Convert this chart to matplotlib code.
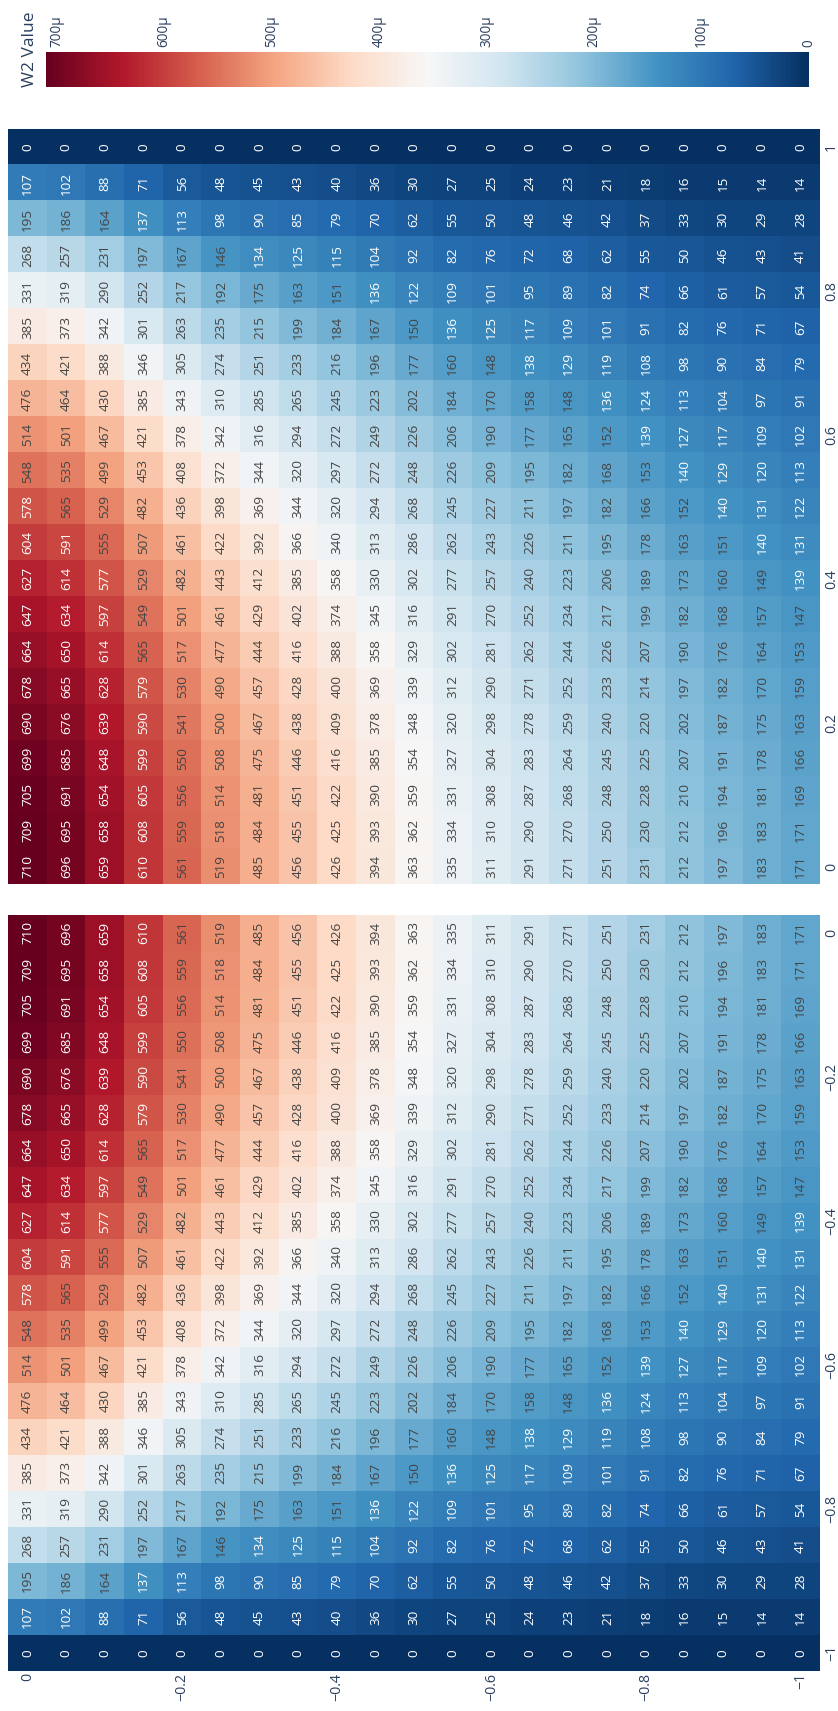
import numpy as np
import matplotlib.pyplot as plt
from matplotlib.colors import Normalize

plt.rcParams['font.family'] = ['Open Sans', 'DejaVu Sans']

# W2 values (in micro units).
# one list per grid line of the positive quadrant, from the 0-edge outwards,
# each list going from the 0-edge to the 1-edge
w2_rows = [
    [710, 709, 705, 699, 690, 678, 664, 647, 627, 604, 578, 548, 514, 476, 434, 385, 331, 268, 195, 107, 0],
    [696, 695, 691, 685, 676, 665, 650, 634, 614, 591, 565, 535, 501, 464, 421, 373, 319, 257, 186, 102, 0],
    [659, 658, 654, 648, 639, 628, 614, 597, 577, 555, 529, 499, 467, 430, 388, 342, 290, 231, 164, 88, 0],
    [610, 608, 605, 599, 590, 579, 565, 549, 529, 507, 482, 453, 421, 385, 346, 301, 252, 197, 137, 71, 0],
    [561, 559, 556, 550, 541, 530, 517, 501, 482, 461, 436, 408, 378, 343, 305, 263, 217, 167, 113, 56, 0],
    [519, 518, 514, 508, 500, 490, 477, 461, 443, 422, 398, 372, 342, 310, 274, 235, 192, 146, 98, 48, 0],
    [485, 484, 481, 475, 467, 457, 444, 429, 412, 392, 369, 344, 316, 285, 251, 215, 175, 134, 90, 45, 0],
    [456, 455, 451, 446, 438, 428, 416, 402, 385, 366, 344, 320, 294, 265, 233, 199, 163, 125, 85, 43, 0],
    [426, 425, 422, 416, 409, 400, 388, 374, 358, 340, 320, 297, 272, 245, 216, 184, 151, 115, 79, 40, 0],
    [394, 393, 390, 385, 378, 369, 358, 345, 330, 313, 294, 272, 249, 223, 196, 167, 136, 104, 70, 36, 0],
    [363, 362, 359, 354, 348, 339, 329, 316, 302, 286, 268, 248, 226, 202, 177, 150, 122, 92, 62, 30, 0],
    [335, 334, 331, 327, 320, 312, 302, 291, 277, 262, 245, 226, 206, 184, 160, 136, 109, 82, 55, 27, 0],
    [311, 310, 308, 304, 298, 290, 281, 270, 257, 243, 227, 209, 190, 170, 148, 125, 101, 76, 50, 25, 0],
    [291, 290, 287, 283, 278, 271, 262, 252, 240, 226, 211, 195, 177, 158, 138, 117, 95, 72, 48, 24, 0],
    [271, 270, 268, 264, 259, 252, 244, 234, 223, 211, 197, 182, 165, 148, 129, 109, 89, 68, 46, 23, 0],
    [251, 250, 248, 245, 240, 233, 226, 217, 206, 195, 182, 168, 152, 136, 119, 101, 82, 62, 42, 21, 0],
    [231, 230, 228, 225, 220, 214, 207, 199, 189, 178, 166, 153, 139, 124, 108, 91, 74, 55, 37, 18, 0],
    [212, 212, 210, 207, 202, 197, 190, 182, 173, 163, 152, 140, 127, 113, 98, 82, 66, 50, 33, 16, 0],
    [197, 196, 194, 191, 187, 182, 176, 168, 160, 151, 140, 129, 117, 104, 90, 76, 61, 46, 30, 15, 0],
    [183, 183, 181, 178, 175, 170, 164, 157, 149, 140, 131, 120, 109, 97, 84, 71, 57, 43, 29, 14, 0],
    [171, 171, 169, 166, 163, 159, 153, 147, 139, 131, 122, 113, 102, 91, 79, 67, 54, 41, 28, 14, 0],
]

pos_ticks = ["1", "0.8", "0.6", "0.4", "0.2", "0"]
neg_ticks = ["0", "\u22120.2", "\u22120.4", "\u22120.6", "\u22120.8", "\u22121"]
tick_idx = [0, 4, 8, 12, 16, 20]
cbar_ticks = [0, 100, 200, 300, 400, 500, 600, 700]
cbar_labels = ["0", "100\u00b5", "200\u00b5", "300\u00b5", "400\u00b5", "500\u00b5", "600\u00b5", "700\u00b5"]

vals = np.array(w2_rows)
# the picture is turned on its side: rows of the panel are the outer index
top_grid = vals.T[::-1, :]
# the negative quadrant is the point mirror of the positive one
bottom_grid = vals.T

W, H = 838, 1711
fig = plt.figure(figsize=(W / 100, H / 100), dpi=100)
fig.patch.set_facecolor('white')

tick_color = '#2a3f5f'
cmap = plt.get_cmap('RdBu_r')
norm = Normalize(vmin=0, vmax=710)


def px_axes(left, top, right, bottom):
    return fig.add_axes([left / W, 1 - bottom / H, (right - left) / W, (bottom - top) / H])


def draw_panel(ax, grid):
    im = ax.imshow(grid, cmap=cmap, norm=norm, aspect='auto', interpolation='nearest')
    for r in range(grid.shape[0]):
        for c in range(grid.shape[1]):
            v = grid[r, c]
            rgb = np.array(cmap(norm(v))[:3]) * 255
            bright = (rgb[0] * 299 + rgb[1] * 587 + rgb[2] * 114) / 1000
            col = 'white' if bright < 130 else '#444444'
            ax.text(c, r, str(v), rotation=90, ha='center', va='center',
                    fontsize=9.7, color=col)
    for s in ax.spines.values():
        s.set_visible(False)
    ax.yaxis.tick_right()
    ax.set_yticks(tick_idx)
    ax.tick_params(length=0, labelsize=10.3, labelcolor=tick_color)
    ax.tick_params(axis='y', pad=3)
    ax.tick_params(axis='x', pad=1.5)
    return im


ax_top = px_axes(8.3, 129.3, 820, 884.5)
im = draw_panel(ax_top, top_grid)
ax_top.set_xticks([])
ax_top.set_yticklabels(pos_ticks, rotation=90, va='center')

ax_bot = px_axes(8.3, 915, 820, 1671)
draw_panel(ax_bot, bottom_grid)
ax_bot.set_yticklabels(neg_ticks, rotation=90, va='center')
ax_bot.set_xticks(tick_idx)
ax_bot.set_xticklabels(neg_ticks, rotation=90, ha='center', va='top')

# colorbar, laid along the top
cax = px_axes(45.7, 52, 809, 87)
cb = fig.colorbar(im, cax=cax, orientation='horizontal')
cb.outline.set_visible(False)
cax.invert_xaxis()
cax.xaxis.set_ticks_position('top')
cb.set_ticks(cbar_ticks)
cax.set_xticklabels(cbar_labels, rotation=90, ha='center', va='bottom')
cax.tick_params(length=0, pad=3.6, labelsize=9.8, labelcolor=tick_color)

fig.text(30 / W, 1 - 87 / H, "W2 Value", rotation=90, ha='center', va='bottom',
         fontsize=12.5, color=tick_color)

fig.savefig('out.png', dpi=100, facecolor='white')
